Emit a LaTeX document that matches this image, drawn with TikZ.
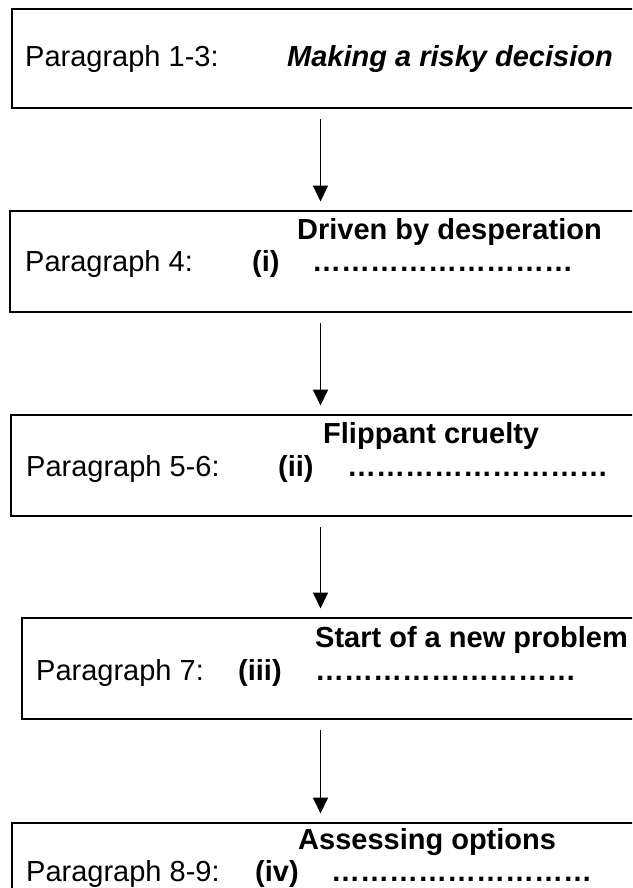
\documentclass[tikz,border=0pt]{standalone}
\usepackage{fontspec}
\setmainfont{Liberation Sans}
\usetikzlibrary{arrows.meta}
\newcommand\dotline{\char"2026\char"2026\char"2026\char"2026\char"2026\char"2026\char"2026\char"2026\char"2026}
\begin{document}
\begin{tikzpicture}[x=1pt,y=-1pt,
  boxst/.style={draw=black,line width=2.3pt,rectangle,inner sep=0pt,anchor=north west,minimum width=660pt},
  txt/.style={anchor=base west,inner sep=0pt,font=\fontsize{29}{34}\selectfont},
  btxt/.style={txt,font=\fontsize{29}{34}\selectfont\bfseries},
  arr/.style={line width=1.7pt,-{Triangle[length=16pt,width=15pt]},shorten <=10pt,shorten >=8.5pt}]
\clip (0,0) rectangle (632,888);
\coordinate (ax) at (320.5,0);
% boxes
\node[boxst,minimum height=99pt] (b1) at (11,8) {};
\node[boxst,minimum height=101pt] (b2) at (9,210) {};
\node[boxst,minimum height=101pt] (b3) at (10,414) {};
\node[boxst,minimum height=101pt] (b4) at (21,617) {};
\node[boxst,minimum height=120pt] (b5) at (11,822) {};
% box 1
\node[txt] (p1) at (25,67) {Paragraph 1-3:};
\node[txt,font=\fontsize{29}{34}\selectfont\bfseries\itshape] (t1) at (287,67) {Making a risky decision};
% box 2
\node[btxt] (t2) at (297,239.5) {Driven by desperation};
\node[txt] (p2) at (25,271.5) {Paragraph 4:};
\node[btxt] (n2) at (252,271.5) {(i)};
\node[btxt] (d2) at (312,271.5) {\dotline};
% box 3
\node[btxt] (t3) at (323,443) {Flippant cruelty};
\node[txt] (p3) at (26,476) {Paragraph 5-6:};
\node[btxt] (n3) at (278,476) {(ii)};
\node[btxt] (d3) at (347,476) {\dotline};
% box 4
\node[btxt] (t4) at (315,647) {Start of a new problem};
\node[txt] (p4) at (36,680) {Paragraph 7:};
\node[btxt] (n4) at (238,680) {(iii)};
\node[btxt] (d4) at (315,680) {\dotline};
% box 5
\node[btxt] (t5) at (298,849) {Assessing options};
\node[txt] (p5) at (26,881) {Paragraph 8-9:};
\node[btxt] (n5) at (255,881) {(iv)};
\node[btxt] (d5) at (331,881) {\dotline};
% arrows
\draw[arr] (ax |- b1.south) -- (ax |- b2.north);
\draw[arr] (ax |- b2.south) -- (ax |- b3.north);
\draw[arr] (ax |- b3.south) -- (ax |- b4.north);
\draw[arr] (ax |- b4.south) -- (ax |- b5.north);
\end{tikzpicture}
\end{document}
